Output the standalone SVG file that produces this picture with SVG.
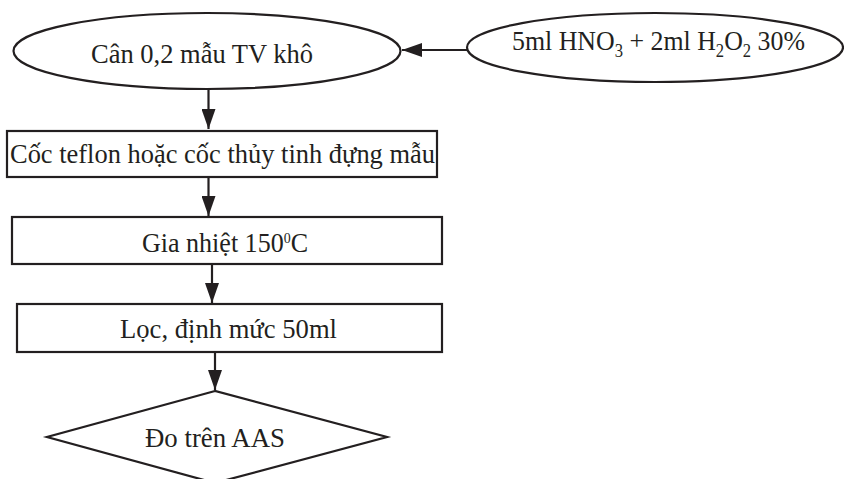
<svg xmlns="http://www.w3.org/2000/svg" width="844" height="479" viewBox="0 0 844 479">
  <style>
    .shape { fill: #ffffff; stroke: #231f20; stroke-width: 2.2; }
    .link { fill: none; stroke: #231f20; stroke-width: 2.2; }
    .label { font-family: "Liberation Serif", "Times New Roman", serif; font-size: 28px; fill: #231f20; }
    .sub { font-size: 18px; }
    .sup { font-size: 15px; }
  </style>
  <defs>
    <marker id="arrow" viewBox="0 0 20 14" refX="20" refY="7" markerWidth="20" markerHeight="14" markerUnits="userSpaceOnUse" orient="auto">
      <path d="M0,0 L20,7 L0,14 Z" fill="#231f20"/>
    </marker>
  </defs>
  <rect width="844" height="479" fill="#ffffff"/>

  <g id="connectors">
    <line class="link" x1="468" y1="50" x2="402" y2="50" marker-end="url(#arrow)"/>
    <line class="link" x1="208.5" y1="89" x2="208.5" y2="129" marker-end="url(#arrow)"/>
    <line class="link" x1="208.5" y1="177" x2="208.5" y2="216" marker-end="url(#arrow)"/>
    <line class="link" x1="212" y1="264" x2="212" y2="303" marker-end="url(#arrow)"/>
    <line class="link" x1="215" y1="352" x2="215" y2="390" marker-end="url(#arrow)"/>
  </g>

  <g id="weigh-sample">
    <ellipse class="shape" cx="207" cy="51" rx="193.5" ry="38"/>
    <text class="label" x="91" y="63" textLength="222" lengthAdjust="spacingAndGlyphs">Cân 0,2 mẫu TV khô</text>
  </g>

  <g id="reagents">
    <ellipse class="shape" cx="655" cy="47.5" rx="188" ry="34.5"/>
    <text class="label" x="512" y="50" textLength="293" lengthAdjust="spacingAndGlyphs">5ml HNO<tspan class="sub" dy="7">3</tspan><tspan dy="-7"> + 2ml H</tspan><tspan class="sub" dy="7">2</tspan><tspan dy="-7">O</tspan><tspan class="sub" dy="7">2</tspan><tspan dy="-7"> 30%</tspan></text>
  </g>

  <g id="vessel">
    <rect class="shape" x="7" y="131" width="430" height="46"/>
    <text class="label" x="10" y="163" textLength="425" lengthAdjust="spacingAndGlyphs">Cốc teflon hoặc cốc thủy tinh đựng mẫu</text>
  </g>

  <g id="heating">
    <rect class="shape" x="12" y="217" width="430" height="47"/>
    <text class="label" x="142" y="252" textLength="166" lengthAdjust="spacingAndGlyphs">Gia nhiệt 150<tspan class="sup" dy="-9">0</tspan><tspan dy="9">C</tspan></text>
  </g>

  <g id="filtering">
    <rect class="shape" x="17" y="304" width="425" height="48"/>
    <text class="label" x="120" y="338" textLength="217" lengthAdjust="spacingAndGlyphs">Lọc, định mức 50ml</text>
  </g>

  <g id="measure">
    <polygon class="shape" points="215,391 47,437 215,483 387,437"/>
    <text class="label" x="145" y="447" textLength="140" lengthAdjust="spacingAndGlyphs">Đo trên AAS</text>
  </g>
</svg>
